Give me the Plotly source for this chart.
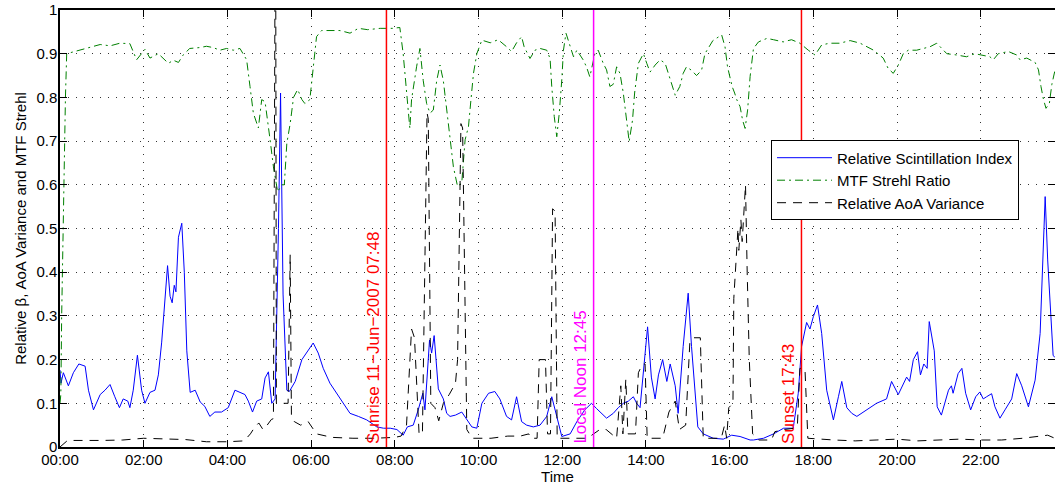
import plotly.graph_objects as go

# ---------------- data (hours of day, relative values) ----------------
si_t = [0.0, 0.024, 0.08, 0.2, 0.32, 0.45, 0.6, 0.68, 0.8, 0.96, 1.075, 1.195, 1.31, 1.42, 1.51, 1.62, 1.67,
        1.75, 1.85, 1.95, 2.03, 2.15, 2.27, 2.35, 2.43, 2.49, 2.57, 2.63, 2.68, 2.73, 2.77, 2.83, 2.91, 2.97,
        3.03, 3.11, 3.23, 3.35, 3.46, 3.58, 3.70, 3.86, 4.02, 4.18, 4.3, 4.42, 4.5, 4.6, 4.7, 4.82, 4.9, 4.98,
        5.06, 5.14, 5.22, 5.27, 5.33, 5.42, 5.48, 5.62, 5.78, 5.93, 6.05, 6.17, 6.29, 6.45, 6.61, 6.77, 6.93,
        7.13, 7.33, 7.57, 7.73, 7.89, 8.05, 8.2, 8.3, 8.44, 8.56, 8.67, 8.72, 8.83, 8.88, 8.94, 9.04, 9.16,
        9.24, 9.32, 9.45, 9.6, 9.72, 9.84, 9.96, 10.08, 10.24, 10.39, 10.51, 10.67, 10.79, 10.91, 11.03,
        11.15, 11.31, 11.47, 11.63, 11.75, 11.87, 11.99, 12.19, 12.35, 12.54, 12.7, 12.82, 12.94, 13.06,
        13.22, 13.34, 13.46, 13.58, 13.7, 13.78, 13.86, 13.95, 14.04, 14.13, 14.22, 14.3, 14.4, 14.5, 14.58,
        14.7, 14.77, 14.89, 15.01, 15.09, 15.17, 15.24, 15.37, 15.61, 15.85, 16.05, 16.25, 16.49, 16.57,
        16.81, 17.05, 17.29, 17.52, 17.64, 17.72, 17.84, 17.92, 18.0, 18.1, 18.2, 18.32, 18.48, 18.6, 18.68,
        18.8, 18.92, 19.04, 19.2, 19.35, 19.51, 19.75, 19.87, 20.03, 20.23, 20.3, 20.39, 20.49, 20.56, 20.64,
        20.72, 20.77, 20.89, 20.96, 21.06, 21.23, 21.3, 21.34, 21.46, 21.55, 21.64, 21.76, 21.88, 21.98,
        22.06, 22.14, 22.26, 22.34, 22.46, 22.58, 22.74, 22.86, 22.98, 23.14, 23.3, 23.42, 23.48, 23.54,
        23.6, 23.73, 23.77]
si_v = [0.176, 0.146, 0.17, 0.14, 0.17, 0.19, 0.185, 0.13, 0.085, 0.12, 0.13, 0.143, 0.115, 0.09, 0.11, 0.105,
        0.09, 0.13, 0.21, 0.13, 0.10, 0.125, 0.13, 0.165, 0.24, 0.32, 0.415, 0.345, 0.33, 0.37, 0.355, 0.48,
        0.512, 0.40, 0.22, 0.125, 0.13, 0.103, 0.093, 0.07, 0.08, 0.08, 0.09, 0.13, 0.125, 0.12, 0.105, 0.08,
        0.105, 0.11, 0.158, 0.172, 0.10, 0.11, 0.5, 0.81, 0.35, 0.13, 0.127, 0.15, 0.20, 0.22, 0.238, 0.215,
        0.18, 0.146, 0.123, 0.10, 0.077, 0.07, 0.062, 0.046, 0.043, 0.043, 0.04, 0.027, 0.046, 0.05, 0.085,
        0.123, 0.085, 0.245, 0.215, 0.255, 0.133, 0.11, 0.077, 0.07, 0.073, 0.08, 0.062, 0.046, 0.043, 0.10,
        0.123, 0.127, 0.11, 0.07, 0.062, 0.115, 0.058, 0.05, 0.046, 0.05, 0.07, 0.115, 0.07, 0.024, 0.03,
        0.058, 0.085, 0.10, 0.088, 0.077, 0.066, 0.077, 0.09, 0.10, 0.105, 0.115, 0.10, 0.09, 0.18, 0.275,
        0.16, 0.11, 0.165, 0.20, 0.15, 0.19, 0.14, 0.077, 0.23, 0.352, 0.23, 0.123, 0.046, 0.03, 0.02, 0.018,
        0.027, 0.024, 0.016, 0.016, 0.02, 0.03, 0.043, 0.043, 0.123, 0.23, 0.285, 0.27, 0.298, 0.325, 0.26,
        0.13, 0.062, 0.115, 0.15, 0.09, 0.077, 0.07, 0.08, 0.09, 0.10, 0.11, 0.15, 0.12, 0.16, 0.15, 0.20,
        0.218, 0.165, 0.19, 0.18, 0.287, 0.22, 0.092, 0.073, 0.13, 0.14, 0.123, 0.168, 0.18, 0.123, 0.085,
        0.115, 0.126, 0.11, 0.115, 0.122, 0.092, 0.066, 0.085, 0.11, 0.168, 0.14, 0.092, 0.153, 0.26, 0.43,
        0.573, 0.428, 0.21, 0.205]

mtf_t = [0.0, 0.02, 0.04, 0.08, 0.13, 0.16, 0.48, 0.96, 1.2, 1.43, 1.67, 1.83, 2.03, 2.15, 2.35, 2.47, 2.59,
         2.71, 2.83, 2.95, 3.1, 3.34, 3.5, 3.66, 3.82, 3.98, 4.14, 4.3, 4.46, 4.54, 4.62, 4.74, 4.82, 4.9,
         4.94, 5.02, 5.1, 5.2, 5.3, 5.36, 5.42, 5.5, 5.58, 5.68, 5.78, 5.85, 5.97, 6.05, 6.13, 6.25, 6.53,
         6.69, 6.93, 7.13, 7.35, 7.65, 7.95, 8.12, 8.2, 8.26, 8.32, 8.36, 8.4, 8.52, 8.6, 8.68, 8.76, 8.84,
         8.92, 9.0, 9.08, 9.16, 9.24, 9.32, 9.4, 9.5, 9.6, 9.68, 9.76, 9.82, 9.88, 9.96, 10.08, 10.28, 10.47,
         10.67, 10.79, 10.91, 11.03, 11.09, 11.23, 11.35, 11.47, 11.63, 11.71, 11.75, 11.81, 11.87, 11.93,
         11.99, 12.03, 12.09, 12.19, 12.27, 12.35, 12.5, 12.58, 12.66, 12.78, 12.86, 12.98, 13.06, 13.14,
         13.22, 13.3, 13.38, 13.46, 13.54, 13.6, 13.68, 13.73, 13.82, 13.94, 14.02, 14.1, 14.22, 14.34,
         14.46, 14.58, 14.7, 14.81, 14.89, 14.97, 15.09, 15.21, 15.33, 15.41, 15.6, 15.81, 15.89, 15.95,
         16.06, 16.12, 16.17, 16.25, 16.31, 16.37, 16.43, 16.49, 16.57, 16.69, 16.89, 17.05, 17.28, 17.48,
         17.68, 17.88, 18.04, 18.2, 18.39, 18.63, 18.88, 19.12, 19.2, 19.44, 19.67, 19.79, 19.91, 20.03,
         20.15, 20.27, 20.47, 20.63, 20.79, 20.95, 21.19, 21.43, 21.66, 21.86, 22.06, 22.22, 22.3, 22.42,
         22.66, 22.86, 22.94, 23.1, 23.3, 23.38, 23.44, 23.5, 23.56, 23.64, 23.7, 23.77]
mtf_v = [0.1, 0.12, 0.3, 0.55, 0.8, 0.9, 0.908, 0.921, 0.918, 0.924, 0.923, 0.886, 0.91, 0.89, 0.90, 0.89,
         0.878, 0.885, 0.88, 0.898, 0.912, 0.914, 0.917, 0.914, 0.908, 0.912, 0.908, 0.912, 0.886, 0.825,
         0.764, 0.73, 0.795, 0.79, 0.764, 0.703, 0.641, 0.584, 0.60, 0.60, 0.695, 0.74, 0.80, 0.818, 0.795,
         0.786, 0.795, 0.87, 0.939, 0.953, 0.954, 0.953, 0.947, 0.958, 0.955, 0.958, 0.958, 0.96, 0.9, 0.825,
         0.771, 0.729, 0.795, 0.87, 0.912, 0.838, 0.786, 0.764, 0.771, 0.838, 0.874, 0.838, 0.77, 0.703,
         0.641, 0.596, 0.605, 0.703, 0.733, 0.795, 0.855, 0.90, 0.931, 0.925, 0.932, 0.916, 0.905, 0.925,
         0.939, 0.916, 0.889, 0.908, 0.912, 0.908, 0.889, 0.825, 0.756, 0.71, 0.764, 0.84, 0.908, 0.947,
         0.916, 0.893, 0.908, 0.886, 0.87, 0.847, 0.90, 0.908, 0.878, 0.863, 0.825, 0.83, 0.87, 0.855, 0.81,
         0.748, 0.699, 0.748, 0.81, 0.878, 0.90, 0.878, 0.858, 0.874, 0.886, 0.878, 0.84, 0.805, 0.825, 0.855,
         0.87, 0.862, 0.85, 0.862, 0.90, 0.93, 0.943, 0.916, 0.87, 0.825, 0.81, 0.795, 0.779, 0.748, 0.729,
         0.771, 0.848, 0.912, 0.927, 0.935, 0.932, 0.927, 0.932, 0.924, 0.908, 0.897, 0.92, 0.924, 0.924,
         0.93, 0.924, 0.92, 0.908, 0.89, 0.866, 0.855, 0.874, 0.90, 0.908, 0.908, 0.912, 0.916, 0.924, 0.90,
         0.897, 0.893, 0.90, 0.897, 0.893, 0.886, 0.90, 0.905, 0.897, 0.886, 0.89, 0.88, 0.863, 0.825, 0.795,
         0.775, 0.786, 0.83, 0.86]

aoa_t = [0.0, 0.18, 1.0, 1.5, 2.0, 2.5, 3.0, 3.5, 4.0, 4.4, 4.55, 4.65, 4.75, 4.85, 4.95, 5.05, 5.1, 5.15,
         5.17, 5.45, 5.5, 5.53, 5.6, 5.75, 5.93, 6.13, 6.5, 7.0, 7.5, 8.0, 8.15, 8.28, 8.4, 8.47, 8.58, 8.66,
         8.77, 8.8, 8.86, 8.96, 9.05, 9.16, 9.3, 9.45, 9.5, 9.58, 9.62, 9.72, 9.85, 10.3, 10.7, 11.0, 11.2,
         11.25, 11.4, 11.45, 11.6, 11.65, 11.72, 11.77, 11.83, 11.88, 12.3, 12.6, 12.9, 13.05, 13.3, 13.4,
         13.45, 13.52, 13.57, 13.75, 13.82, 13.92, 13.98, 14.03, 14.4, 14.55, 14.7, 14.8, 14.95, 15.05,
         15.15, 15.3, 15.37, 15.8, 15.88, 15.93, 15.98, 16.08, 16.1, 16.15, 16.2, 16.22, 16.27, 16.3, 16.35,
         16.38, 16.42, 16.47, 16.55, 16.7, 17.0, 17.08, 17.3, 17.55, 17.62, 17.68, 17.8, 17.87, 18.5, 19.0,
         19.5, 20.0, 20.5, 21.0, 21.5, 22.0, 22.5, 23.0, 23.4, 23.6, 23.77]
aoa_v = [0.0, 0.015, 0.015, 0.016, 0.02, 0.018, 0.017, 0.012, 0.012, 0.014, 0.03, 0.045, 0.055, 0.04, 0.05,
         0.063, 0.065, 1.4, 0.1, 0.1, 0.44, 0.07, 0.058, 0.05, 0.058, 0.03, 0.022, 0.02, 0.02, 0.022, 0.025,
         0.05, 0.27, 0.25, 0.03, 0.03, 0.765, 0.75, 0.1, 0.09, 0.06, 0.1, 0.12, 0.146, 0.2, 0.74, 0.73, 0.04,
         0.02, 0.02, 0.025, 0.025, 0.03, 0.02, 0.02, 0.2, 0.2, 0.03, 0.03, 0.545, 0.54, 0.02, 0.02, 0.02,
         0.04, 0.04, 0.02, 0.14, 0.03, 0.155, 0.03, 0.03, 0.17, 0.19, 0.19, 0.02, 0.02, 0.08, 0.105, 0.04,
         0.05, 0.24, 0.25, 0.25, 0.02, 0.02, 0.05, 0.02, 0.09, 0.1, 0.34, 0.42, 0.5, 0.45, 0.52, 0.47, 0.55,
         0.6, 0.4, 0.2, 0.03, 0.016, 0.016, 0.035, 0.04, 0.043, 0.05, 0.18, 0.18, 0.02, 0.016, 0.014, 0.016,
         0.018, 0.014, 0.016, 0.018, 0.016, 0.016, 0.02, 0.024, 0.027, 0.02]

event_t = [7.8, 12.75, 17.7167]
event_labels = ["Sunrise 11\u2212Jun\u22122007 07:48", "Local Noon 12:45", "Sunset 17:43"]
event_colors = ["#ff0000", "#ff00ff", "#ff0000"]

x_tickvals = [0, 2, 4, 6, 8, 10, 12, 14, 16, 18, 20, 22]
x_ticktext = ["00:00", "02:00", "04:00", "06:00", "08:00", "10:00", "12:00",
              "14:00", "16:00", "18:00", "20:00", "22:00"]
y_tickvals = [0, 0.1, 0.2, 0.3, 0.4, 0.5, 0.6, 0.7, 0.8, 0.9, 1]
y_ticktext = ["0", "0.1", "0.2", "0.3", "0.4", "0.5", "0.6", "0.7", "0.8", "0.9", "1"]

FONT = "Liberation Sans, Arial, Helvetica, sans-serif"

fig = go.Figure()
fig.add_trace(go.Scatter(x=si_t, y=si_v, mode="lines", name="Relative Scintillation Index",
                         line=dict(color="#0000ff", width=1)))
fig.add_trace(go.Scatter(x=mtf_t, y=mtf_v, mode="lines", name="MTF Strehl Ratio",
                         line=dict(color="#008000", width=1, dash="8px,4px,2px,4px")))
fig.add_trace(go.Scatter(x=aoa_t, y=aoa_v, mode="lines", name="Relative AoA Variance",
                         line=dict(color="#000000", width=1, dash="9px,7px")))

for t, lab, col in zip(event_t, event_labels, event_colors):
    fig.add_shape(type="line", x0=t, x1=t, y0=0, y1=1, xref="x", yref="y",
                  line=dict(color=col, width=1.5))
    fig.add_annotation(x=t, y=0, xref="x", yref="y", text=lab, textangle=-90,
                       showarrow=False, xanchor="right", yanchor="bottom",
                       xshift=-2, yshift=1, font=dict(family=FONT, size=17, color=col))

grid = dict(showgrid=True, gridcolor="#333333", gridwidth=1, griddash="1px,7px")
fig.update_layout(
    width=1055, height=489,
    margin=dict(l=60, r=0, t=10, b=42),
    paper_bgcolor="white", plot_bgcolor="white",
    font=dict(family=FONT, size=15, color="black"),
    showlegend=True,
    legend=dict(x=0.7146, y=0.7015, xanchor="left", yanchor="top",
                bgcolor="white", bordercolor="black", borderwidth=1,
                font=dict(family=FONT, size=15, color="black"), itemwidth=55,
                tracegroupgap=0),
    xaxis=dict(range=[0, 23.775], tickmode="array", tickvals=x_tickvals, ticktext=x_ticktext,
               ticks="inside", ticklen=7, tickcolor="black", showline=True, linecolor="black",
               linewidth=1.5, mirror="ticks", zeroline=False, automargin=False,
               ticklabelstandoff=-2,
               tickfont=dict(family=FONT, size=15, color="black"),
               title=dict(text="Time", font=dict(family=FONT, size=15, color="black"), standoff=4),
               **grid),
    yaxis=dict(range=[0, 1], tickmode="array", tickvals=y_tickvals, ticktext=y_ticktext,
               ticks="inside", ticklen=7, tickcolor="black", showline=True, linecolor="black",
               linewidth=1.5, mirror="ticks", zeroline=False, automargin=False,
               ticklabelstandoff=-2,
               tickfont=dict(family=FONT, size=15, color="black"),
               title=dict(text="Relative \u03b2, AoA Variance and MTF Strehl",
                          font=dict(family=FONT, size=15, color="black"), standoff=6),
               **grid),
)

fig.write_html("out.html", config={"displayModeBar": False},
               post_script="document.body.style.margin='0px';document.body.style.overflow='hidden';")
